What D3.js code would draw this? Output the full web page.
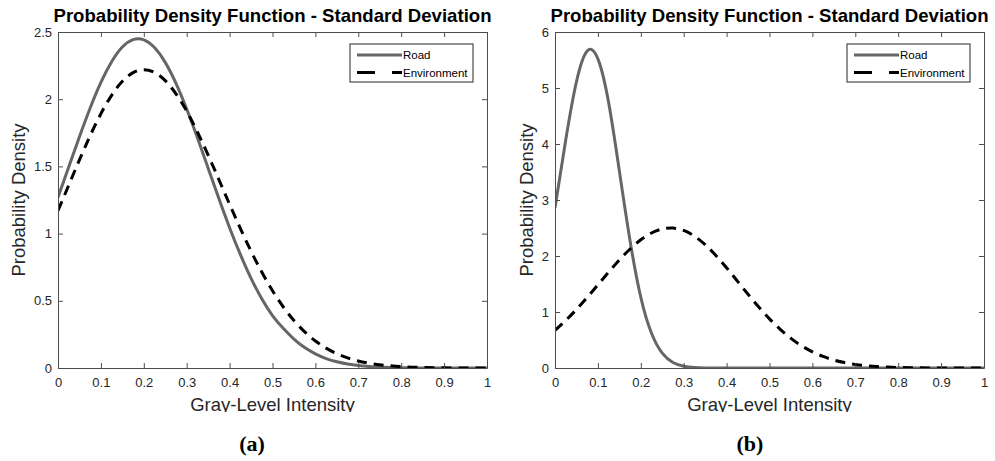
<!DOCTYPE html>
<html>
<head>
<meta charset="utf-8">
<script src="https://d3js.org/d3.v7.min.js"></script>
<style>
  body { margin: 0; background: #fff; }
  text { font-family: "Liberation Sans", Arial, Helvetica, sans-serif; }
</style>
</head>
<body>
<script>
// sample positions along the gray-level axis
const xs = [0, 0.025, 0.05, 0.075, 0.1, 0.125, 0.15, 0.175, 0.2, 0.225, 0.25, 0.275, 0.3, 0.325, 0.35,
  0.375, 0.4, 0.425, 0.45, 0.475, 0.5, 0.525, 0.55, 0.575, 0.6, 0.625, 0.65, 0.675, 0.7, 0.725, 0.75,
  0.775, 0.8, 0.825, 0.85, 0.875, 0.9, 0.925, 0.95, 0.975, 1];

// panel (a)
const roadA = [1.270, 1.496, 1.721, 1.935, 2.125, 2.279, 2.388, 2.443, 2.442, 2.384, 2.274, 2.118, 1.927, 1.713, 1.487,
  1.261, 1.044, 0.845, 0.667, 0.515, 0.390, 0.295, 0.215, 0.152, 0.105, 0.070, 0.046, 0.030, 0.019, 0.012, 0.007,
  0.004, 0.002, 0.001, 0, 0, 0, 0, 0, 0, 0];
const envA = [1.171, 1.360, 1.549, 1.729, 1.892, 2.029, 2.133, 2.198, 2.220, 2.199, 2.138, 2.040, 1.911, 1.756, 1.584,
  1.402, 1.218, 1.039, 0.869, 0.714, 0.575, 0.455, 0.353, 0.269, 0.201, 0.148, 0.106, 0.075, 0.052, 0.036, 0.024,
  0.016, 0.010, 0.006, 0.004, 0.002, 0.001, 0, 0, 0, 0];

// panel (b)
const roadB = [2.862, 4.072, 5.112, 5.660, 5.520, 4.740, 3.520, 2.270, 1.264, 0.620, 0.265, 0.099, 0.032, 0.009, 0.002,
  0, 0, 0, 0, 0, 0, 0, 0, 0, 0, 0, 0, 0, 0, 0, 0,
  0, 0, 0, 0, 0, 0, 0, 0, 0, 0];
const envB = [0.673, 0.849, 1.046, 1.261, 1.486, 1.712, 1.929, 2.125, 2.289, 2.411, 2.482, 2.499, 2.456, 2.355, 2.202,
  2.010, 1.789, 1.553, 1.316, 1.088, 0.877, 0.690, 0.530, 0.396, 0.289, 0.206, 0.143, 0.097, 0.064, 0.041, 0.026,
  0.016, 0.010, 0.006, 0.003, 0.002, 0.001, 0, 0, 0, 0];

const xTicks = [0, 0.1, 0.2, 0.3, 0.4, 0.5, 0.6, 0.7, 0.8, 0.9, 1];
const yTicksA = [0, 0.5, 1, 1.5, 2, 2.5];
const yTicksB = [0, 1, 2, 3, 4, 5, 6];
const seriesNames = ['Road', 'Environment'];
const title = 'Probability Density Function - Standard Deviation';

const W = 995, H = 461;
const svg = d3.select('body').append('svg').attr('width', W).attr('height', H);

const axisColor = '#4d4d4d';
const textColor = '#262626';

function panel(opt) {
  const left = opt.left, top = 32, pw = 429, ph = 336;
  const g = svg.append('g').attr('transform', `translate(${left},${top})`);

  const x = d3.scaleLinear().domain([0, 1]).range([0, pw]);
  const y = d3.scaleLinear().domain([0, opt.yMax]).range([ph, 0]);

  const clipId = 'clip-' + opt.tag;
  svg.append('clipPath').attr('id', clipId)
    .append('rect').attr('x', 0).attr('y', -2).attr('width', pw + 1).attr('height', ph + 3);

  // curves
  const line = d3.line().x((d, i) => x(xs[i])).y(d => y(d))
    .curve(d3.curveNatural);
  const curves = g.append('g').attr('clip-path', `url(#${clipId})`);
  curves.append('path').datum(opt.road)
    .attr('fill', 'none').attr('stroke', '#666666').attr('stroke-width', 3)
    .attr('d', line);
  curves.append('path').datum(opt.env)
    .attr('fill', 'none').attr('stroke', '#000').attr('stroke-width', 3)
    .attr('stroke-dasharray', '10,7')
    .attr('d', line);

  // axes (box with inward ticks)
  const fmt = d => String(d);
  const bottom = g.append('g').attr('transform', `translate(0,${ph})`)
    .call(d3.axisBottom(x).tickValues(xTicks).tickFormat(fmt).tickSizeInner(-5).tickSizeOuter(0).tickPadding(10));
  const topAx = g.append('g')
    .call(d3.axisTop(x).tickValues(xTicks).tickFormat('').tickSizeInner(-5).tickSizeOuter(0));
  const leftAx = g.append('g')
    .call(d3.axisLeft(y).tickValues(opt.yTicks).tickFormat(fmt).tickSizeInner(-5).tickSizeOuter(0).tickPadding(6));
  const rightAx = g.append('g').attr('transform', `translate(${pw},0)`)
    .call(d3.axisRight(y).tickValues(opt.yTicks).tickFormat('').tickSizeInner(-5).tickSizeOuter(0));

  [bottom, topAx, leftAx, rightAx].forEach(a => {
    a.selectAll('.domain').attr('stroke', axisColor);
    a.selectAll('.tick line').attr('stroke', axisColor);
    a.selectAll('.tick text').attr('fill', textColor).style('font-size', '13px')
      .style('font-family', '"Liberation Sans", Arial, sans-serif');
  });

  // title
  g.append('text')
    .attr('x', pw / 2).attr('y', -10)
    .attr('text-anchor', 'middle')
    .style('font-size', '18.6px').style('font-weight', 'bold')
    .attr('fill', '#000')
    .text(title);

  // axis labels
  const lblClip = 'lbl-' + opt.tag;
  svg.append('clipPath').attr('id', lblClip)
    .append('rect').attr('x', -60).attr('y', ph).attr('width', pw + 120).attr('height', 412 - top - ph);
  g.append('g').attr('clip-path', `url(#${lblClip})`)
    .append('text')
    .attr('x', pw / 2).attr('y', 411 - top)
    .attr('text-anchor', 'middle')
    .attr('fill', textColor)
    .style('font-size', '18.5px')
    .text('Gray-Level Intensity');

  g.append('text')
    .attr('transform', `translate(${opt.ylabX},${ph / 2}) rotate(-90)`)
    .attr('text-anchor', 'middle')
    .attr('fill', textColor)
    .style('font-size', '18.5px')
    .text('Probability Density');

  // legend
  const lg = g.append('g').attr('transform', `translate(${pw - 137},12)`);
  lg.append('rect').attr('width', 123).attr('height', 38)
    .attr('fill', '#fff').attr('stroke', '#262626').attr('stroke-width', 1);
  const rows = lg.selectAll('g.row').data(seriesNames).enter().append('g')
    .attr('transform', (d, i) => `translate(0,${11 + i * 17.5})`);
  rows.append('line')
    .attr('x1', 7).attr('x2', 52).attr('y1', 0).attr('y2', 0)
    .attr('stroke', (d, i) => i === 0 ? '#666666' : '#000')
    .attr('stroke-width', 3)
    .attr('stroke-dasharray', (d, i) => i === 0 ? null : '18,17,10');
  rows.append('text')
    .attr('x', 53).attr('y', 4)
    .style('font-size', '11.5px')
    .attr('fill', '#000')
    .text(d => d);

  // sub-caption
  svg.append('text')
    .attr('x', opt.capX).attr('y', 451)
    .attr('text-anchor', 'middle')
    .style('font-family', '"Liberation Serif", "DejaVu Serif", serif')
    .style('font-size', '22px').style('font-weight', 'bold')
    .attr('fill', '#000')
    .text(opt.caption);
}

panel({ tag: 'a', left: 58, yMax: 2.5, yTicks: yTicksA, road: roadA, env: envA, ylabX: -33, capX: 252, caption: '(a)' });
panel({ tag: 'b', left: 555, yMax: 6, yTicks: yTicksB, road: roadB, env: envB, ylabX: -22, capX: 750, caption: '(b)' });
</script>
</body>
</html>
